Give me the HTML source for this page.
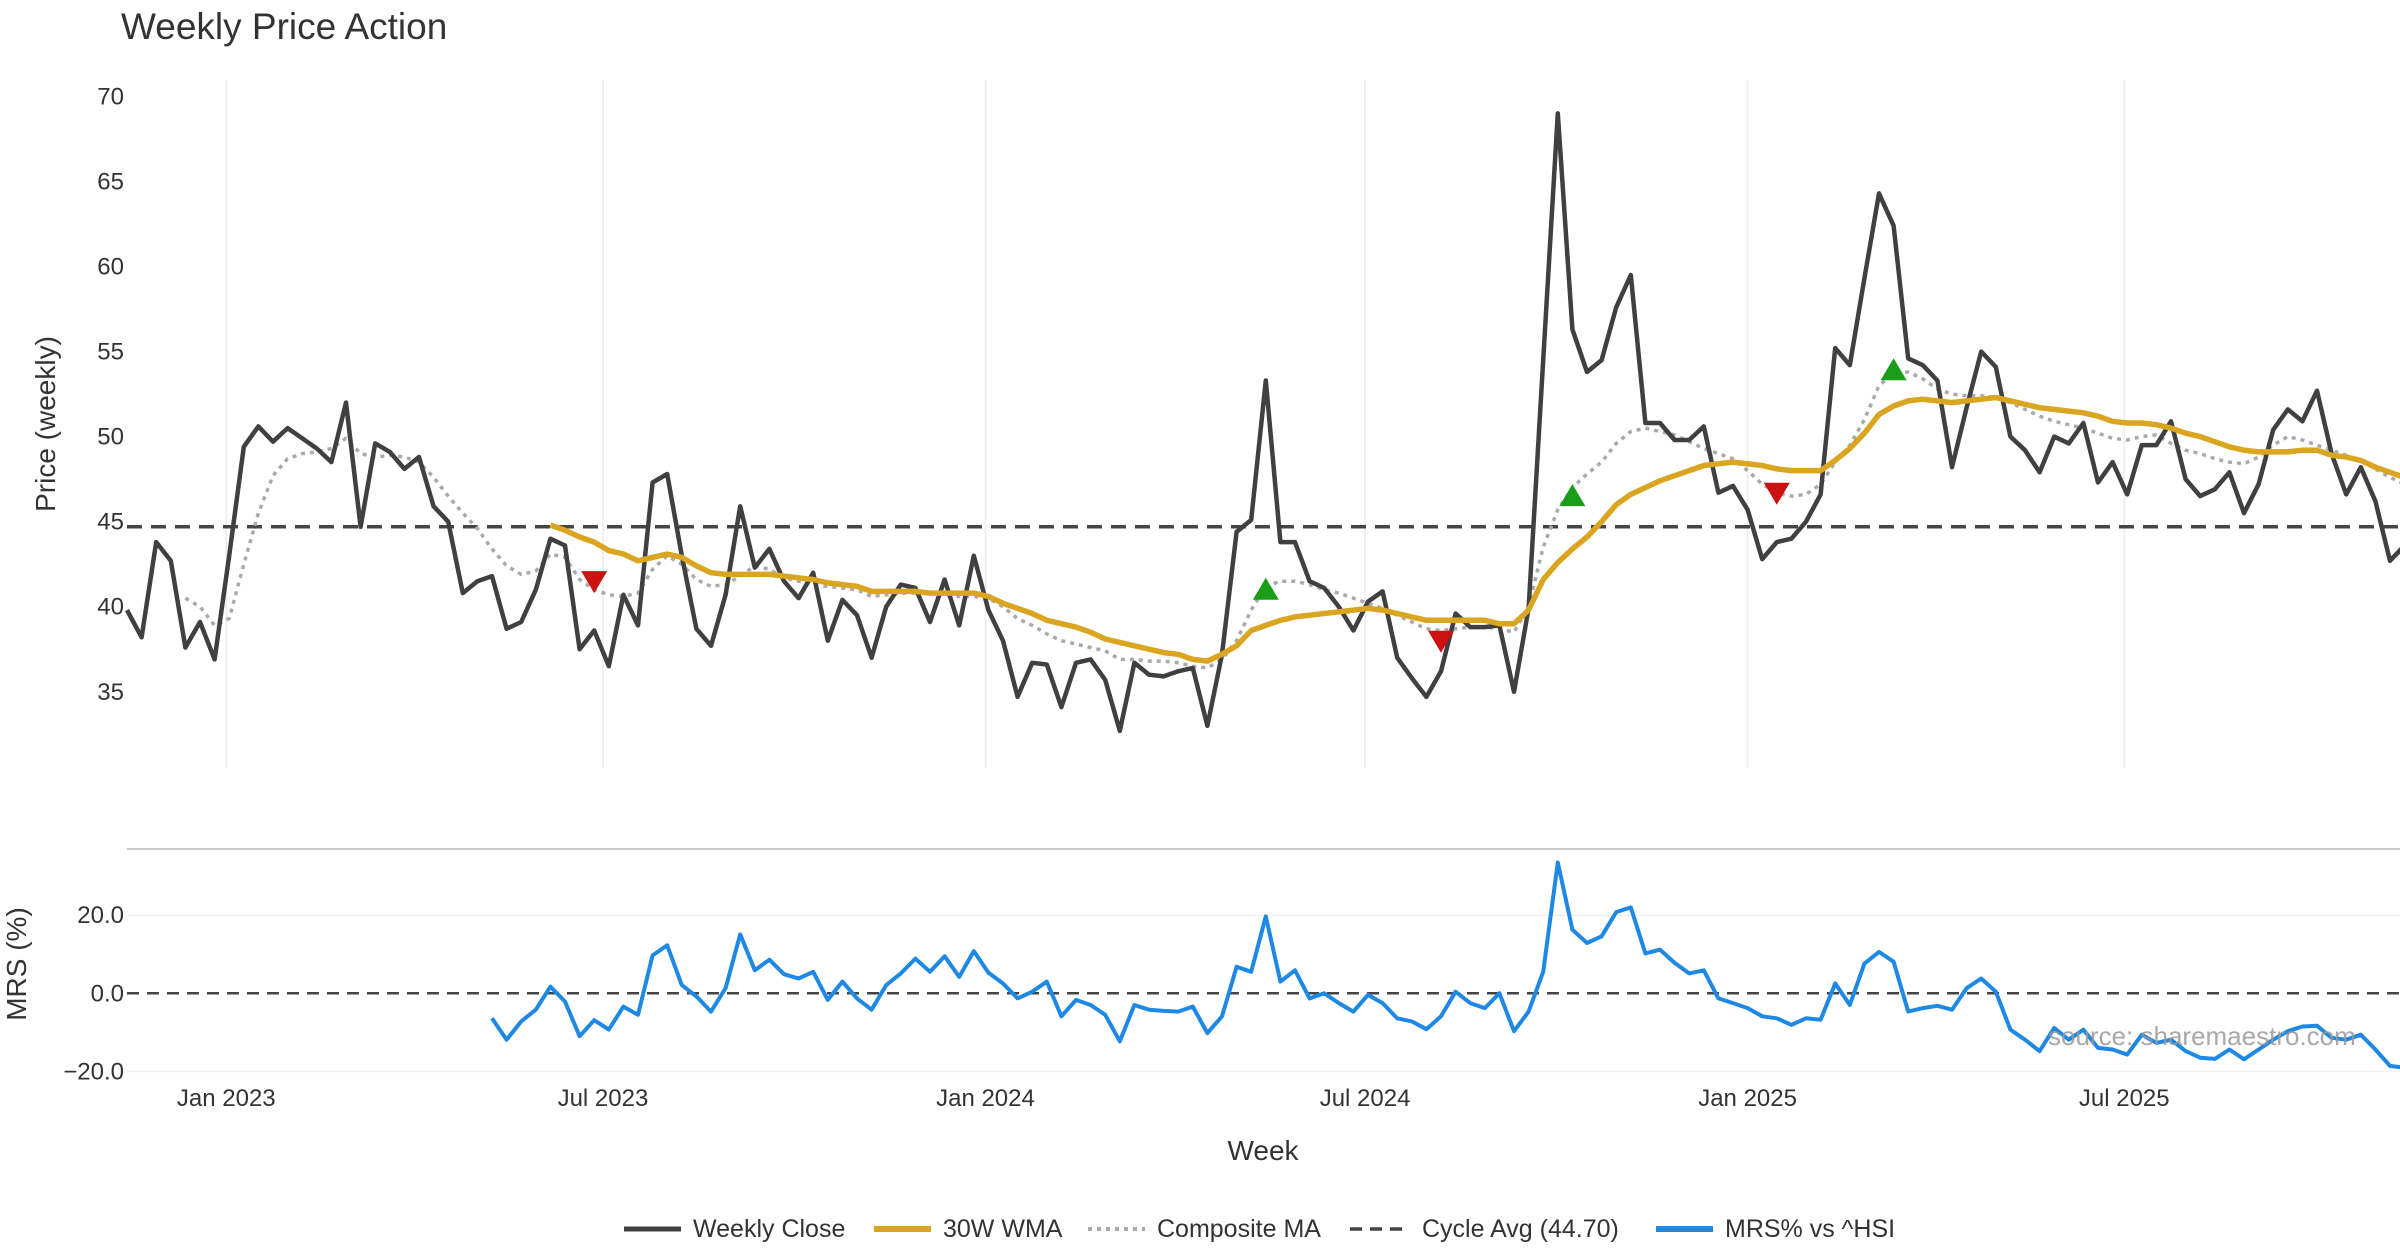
<!DOCTYPE html>
<html><head><meta charset="utf-8"><style>
html,body{margin:0;padding:0;background:#fff;}
svg{display:block;font-family:"Liberation Sans","DejaVu Sans",sans-serif;}
</style></head><body>
<svg id="chart" width="2400" height="1260" viewBox="0 0 2400 1260" xmlns="http://www.w3.org/2000/svg">
<text x="121" y="39" font-size="37" fill="#333">Weekly Price Action</text>
<g id="grid"></g><g id="marks"></g><g id="axes"></g>
<text transform="translate(55,424) rotate(-90)" text-anchor="middle" font-size="28" fill="#333">Price (weekly)</text>
<text transform="translate(26,964) rotate(-90)" text-anchor="middle" font-size="28" fill="#333">MRS (%)</text>
<text x="1263" y="1160" text-anchor="middle" font-size="28" fill="#333">Week</text>
<text x="2048" y="1045" font-size="26" fill="#999" opacity="0.85">source: sharemaestro.com</text>
<g id="legend"></g>
</svg>
<script>
const closeVals=[39.8,38.2,43.8,42.7,37.6,39.1,36.9,43.0,49.4,50.6,49.7,50.5,49.9,49.3,48.5,52.0,44.7,49.6,49.1,48.1,48.8,45.9,45.0,40.8,41.5,41.8,38.7,39.1,41.0,44.0,43.6,37.5,38.6,36.5,40.7,38.9,47.3,47.8,
43.0,38.7,37.7,40.7,45.9,42.3,43.4,41.5,40.5,42.0,38.0,40.4,39.5,37.0,40.0,41.3,41.1,39.1,41.6,38.9,43.0,39.8,38.0,34.7,36.7,36.6,34.1,36.7,36.9,35.7,32.7,36.7,36.0,35.9,36.2,36.4,
33.0,37.2,44.4,45.1,53.3,43.8,43.8,41.5,41.1,40.0,38.6,40.3,40.9,37.0,35.8,34.7,36.2,39.6,38.8,38.8,38.9,35.0,39.9,54.5,69.0,56.3,53.8,54.5,57.6,59.5,50.8,50.8,49.8,49.8,50.6,46.7,47.1,45.7,42.8,43.8,44.0,45.0,46.6,55.2,54.2,59.3,64.3,62.4,54.6,54.2,53.3,48.2,51.7,55.0,54.1,50.0,49.2,47.9,50.0,49.6,50.8,47.3,48.5,46.6,49.5,49.5,50.9,47.5,46.5,46.9,47.9,45.5,47.2,50.4,51.6,50.9,52.7,49.0,46.6,48.2,46.2,42.7,43.6];
const wmaStart=29;
const wmaVals=[44.8,44.5,44.1,43.8,43.3,43.1,42.7,42.9,43.1,42.9,42.4,42.0,41.9,41.9,41.9,41.9,41.8,41.7,41.6,41.4,41.3,41.2,40.9,40.9,40.9,40.9,40.8,40.8,40.8,40.8,40.6,40.2,39.9,39.6,39.2,39.0,38.8,38.5,38.1,37.9,37.7,37.5,37.3,37.2,36.9,36.8,37.2,37.7,38.6,38.9,39.2,39.4,39.5,39.6,39.7,39.8,39.9,39.8,39.6,39.4,39.2,39.2,39.2,39.2,39.2,39.0,39.0,39.8,41.6,42.6,43.4,44.1,45.0,46.0,46.6,47.0,47.4,47.7,48.0,48.3,48.4,48.5,48.4,48.3,48.1,48.0,48.0,48.0,48.6,49.3,50.2,51.3,51.8,52.1,52.2,52.1,52.0,52.1,52.2,52.3,52.1,51.9,51.7,51.6,51.5,51.4,51.2,50.9,50.8,50.8,50.7,50.5,50.2,50.0,49.7,49.4,49.2,49.1,49.1,49.1,49.2,49.2,48.9,48.8,48.6,48.2,47.9,47.6];
const compStart=4;
const compVals=[40.5,40.0,38.9,39.3,42.5,45.5,47.7,48.7,49.0,49.1,49.3,49.9,49.0,48.8,48.9,48.8,48.5,47.6,46.5,45.5,44.6,43.4,42.4,41.9,42.1,43.1,42.9,41.6,41.0,40.7,40.6,40.8,42.2,43.0,42.5,41.6,41.2,41.3,41.8,42.4,42.2,41.7,41.5,41.3,41.2,41.1,41.0,40.6,40.7,40.8,40.8,40.8,40.7,40.6,40.6,40.5,40.0,39.3,38.9,38.4,38.0,37.8,37.6,37.4,36.9,36.9,36.8,36.8,36.7,36.5,36.4,36.9,38.0,39.8,41.2,41.5,41.5,41.3,41.0,40.8,40.5,40.2,39.9,39.5,39.1,38.7,38.6,38.7,38.8,38.8,38.7,38.5,40.0,43.5,45.7,47.0,47.8,48.5,49.6,50.3,50.5,50.3,50.1,49.7,49.3,49.0,48.7,48.0,47.2,46.7,46.5,46.6,47.2,48.5,49.5,51.0,53.0,53.7,53.8,53.4,52.8,52.5,52.4,52.4,52.3,52.0,51.6,51.2,50.9,50.7,50.5,50.2,49.9,49.8,50.0,50.1,49.6,49.2,49.0,48.7,48.5,48.4,48.8,49.5,50.0,49.8,49.5,49.2,48.9,48.6,48.1,47.6,47.2];
const mrsStart=25;
const mrsVals=[-6.4,-11.9,-7.2,-4.2,1.7,-2.1,-11.0,-6.9,-9.3,-3.4,-5.5,9.7,12.3,2.1,-0.8,-4.7,1.3,15.1,5.9,8.6,4.9,3.8,5.5,-1.7,3.0,-1.3,-4.2,2.1,5.1,8.9,5.5,9.5,4.2,10.8,5.3,2.5,-1.3,0.4,3.0,-5.9,-1.7,-3.0,-5.5,-12.3,-3.0,-4.2,-4.5,-4.7,-3.4,-10.2,-5.9,6.8,5.5,19.7,3.0,5.9,-1.3,0,-2.5,-4.7,-0.4,-2.5,-6.4,-7.2,-9.2,-5.9,0.4,-2.5,-3.8,0,-9.7,-4.7,5.5,33.5,16.3,12.9,14.6,20.8,22.0,10.2,11.2,7.8,5.1,5.9,-1.3,-2.5,-3.8,-5.9,-6.4,-8.1,-6.4,-6.8,2.5,-3.0,7.6,10.6,8.1,-4.7,-3.8,-3.2,-4.2,1.3,3.8,0.4,-9.3,-11.9,-14.8,-8.9,-11.9,-9.3,-14.0,-14.4,-15.7,-10.6,-12.7,-11.9,-14.8,-16.5,-16.8,-14.4,-16.9,-14.4,-11.9,-9.7,-8.5,-8.3,-11.4,-11.9,-10.6,-14.4,-18.6,-19.1];
const cycleAvg=44.7;
const buyIdx=[78,99,121]; const buyVals=[41.0,46.5,53.9];
const sellIdx=[32,90,113]; const sellVals=[41.5,38.0,46.7];
const priceTicks=[35,40,45,50,55,60,65,70];
const mrsTicks=[20,0,-20]; const mrsTickLabels=["20.0","0.0","\u221220.0"];
const xTickIdx=[6.8,32.6,58.8,84.8,111.0,136.8];
const xTickLabels=["Jan 2023","Jul 2023","Jan 2024","Jul 2024","Jan 2025","Jul 2025"];

const NS="http://www.w3.org/2000/svg";
const X=i=>127+i*14.6;
const YP=v=>96.4+(70-v)*17.01;
const YM=v=>993.3-v*3.903;
function mk(tag,attrs,parent){const e=document.createElementNS(NS,tag);for(const k in attrs)e.setAttribute(k,attrs[k]);parent.appendChild(e);return e;}
const grid=document.getElementById('grid'),marks=document.getElementById('marks'),axes=document.getElementById('axes'),legend=document.getElementById('legend');

xTickIdx.forEach((t,k)=>{
  const g=mk('line',{x1:X(t),x2:X(t),y1:80,y2:768,stroke:'#ececec','stroke-width':1.5},grid);
  
  
  const tx=mk('text',{x:X(t),y:1106,'text-anchor':'middle','font-size':24,fill:'#333'},axes);
  tx.textContent=xTickLabels[k];
  
  
});
priceTicks.forEach(v=>{
  const tx=mk('text',{x:124,y:YP(v)+8,'text-anchor':'end','font-size':24,fill:'#333'},axes);
  tx.textContent=v;
  
  
});
const sep=mk('line',{x1:127,x2:2400,y1:849,y2:849,stroke:'#ccc','stroke-width':2},grid);


mrsTicks.forEach((v,k)=>{
  if(v!==0){const gl=mk('line',{x1:127,x2:2400,y1:YM(v),y2:YM(v),stroke:'#f0f0f0','stroke-width':1.5},grid);
  
  }
  const tx=mk('text',{x:124,y:YM(v)+8,'text-anchor':'end','font-size':24,fill:'#333'},axes);
  tx.textContent=mrsTickLabels[k];
  
  
});
const cyc=mk('line',{x1:127,x2:2400,y1:YP(cycleAvg),y2:YP(cycleAvg),stroke:'#444','stroke-width':3.5,'stroke-dasharray':'15 9'},marks);


const z=mk('line',{x1:127,x2:2400,y1:YM(0),y2:YM(0),stroke:'#444','stroke-width':2.5,'stroke-dasharray':'12 8'},marks);


function poly(vals,start,yf,attrs,name){
  const pts=vals.map((v,i)=>X(start+i).toFixed(1)+','+yf(v).toFixed(1)).join(' ');
  const p=mk('polyline',Object.assign({points:pts,fill:'none','stroke-linejoin':'round'},attrs),marks);
  
  
}
poly(compVals,compStart,YP,{stroke:'#aaa','stroke-width':3.5,'stroke-dasharray':'4 5'},'composite-ma-line');
poly(closeVals,0,YP,{stroke:'#404040','stroke-width':4.5},'weekly-close-line');
poly(wmaVals,wmaStart,YP,{stroke:'#DAA520','stroke-width':5.5},'wma-30w-line');
poly(mrsVals,mrsStart,YM,{stroke:'#1E88E5','stroke-width':4},'mrs-line');
buyIdx.forEach((i,k)=>{const x=X(i),y=YP(buyVals[k]);
  const t=mk('polygon',{points:`${x-13},${y+10} ${x+13},${y+10} ${x},${y-12}`,fill:'#1a9e1a'},marks);
  
  });
sellIdx.forEach((i,k)=>{const x=X(i),y=YP(sellVals[k]);
  const t=mk('polygon',{points:`${x-13},${y-10} ${x+13},${y-10} ${x},${y+12}`,fill:'#cc1111'},marks);
  
  });
const legItems=[["Weekly Close","#404040",624,693,"",5],["30W WMA","#DAA520",874,943,"",6],["Composite MA","#aaa",1088,1157,"4 5",4],["Cycle Avg (44.70)","#444",1350,1422,"12 8",3.5],["MRS% vs ^HSI","#1E88E5",1656,1725,"",6]];
legItems.forEach(it=>{
  const l=mk('line',{x1:it[2],x2:it[2]+57,y1:1229,y2:1229,stroke:it[1],'stroke-width':it[5],'stroke-dasharray':it[4]||'none'},legend);
  
  
  const t=mk('text',{x:it[3],y:1237,'font-size':25,fill:'#333'},legend);
  t.textContent=it[0];
  
  
});
</script>
</body></html>
